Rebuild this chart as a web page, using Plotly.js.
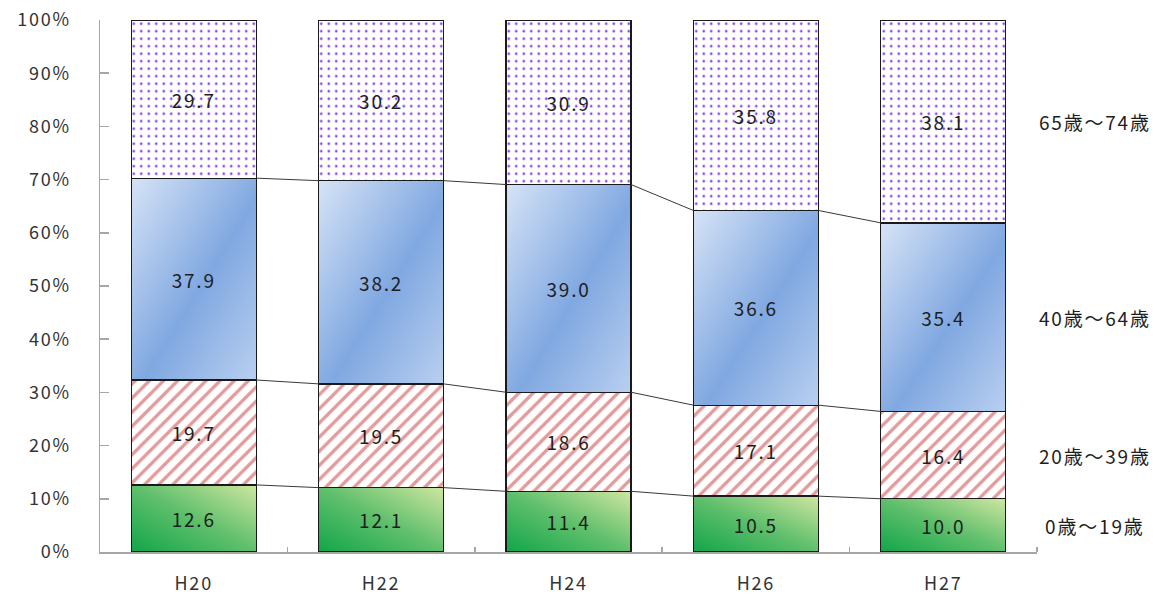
<!DOCTYPE html>
<html>
<head>
<meta charset="utf-8">
<script src="https://cdn.plot.ly/plotly-3.0.1.min.js"></script>
<style>
html,body{margin:0;padding:0;background:#fff;}
#chart{width:1170px;height:603px;}
.main-svg text{letter-spacing:1.8px;}
.annotation-text{letter-spacing:3.5px;}
</style>
</head>
<body>
<div id="chart"></div>
<script>
// ---- data ----
var categories = ["H20", "H22", "H24", "H26", "H27"];
var seriesNames = ["0歳～19歳", "20歳～39歳", "40歳～64歳", "65歳～74歳"];
var age0to19  = [12.6, 12.1, 11.4, 10.5, 10.0];
var age20to39 = [19.7, 19.5, 18.6, 17.1, 16.4];
var age40to64 = [37.9, 38.2, 39.0, 36.6, 35.4];
var age65to74 = [29.7, 30.2, 30.9, 35.8, 38.1];
var yTickVals = [0,10,20,30,40,50,60,70,80,90,100];

var series = [age0to19, age20to39, age40to64, age65to74];
var xIdx = categories.map(function(_, i){ return i; });
var BARGAP = 0.333;
var half = (1 - BARGAP) / 2;

var totals = xIdx.map(function(i){ return series.reduce(function(s, a){ return s + a[i]; }, 0); });
var cum = series.map(function(_, k){
  return xIdx.map(function(i){
    var s = 0; for (var j = 0; j <= k; j++) s += series[j][i];
    return s / totals[i] * 100;
  });
});

var labelFont = {family: "Noto Sans CJK JP, Noto Sans, sans-serif", size: 19, color: "#1e1e1e"};
var styles = [
  {color: "#5cbf6a"},
  {color: "#ffffff", pattern: {shape: "/", fgcolor: "#e39a9a", bgcolor: "#ffffff", size: 10, solidity: 0.33}},
  {color: "#a6c3ec"},
  {color: "#ffffff", pattern: {shape: ".", fgcolor: "#8a45f0", bgcolor: "#ffffff", size: 7.5, solidity: 0.1}}
];

var traces = series.map(function(vals, k){
  var m = {color: styles[k].color, line: {color: "#1a1a1a", width: 1.3}};
  if (styles[k].pattern) m.pattern = styles[k].pattern;
  return {
    type: "bar", x: xIdx, y: vals, name: seriesNames[k],
    marker: m,
    text: vals.map(function(v){ return v.toFixed(1); }),
    textposition: "inside", insidetextanchor: "middle", textangle: 0,
    constraintext: "none",
    textfont: labelFont,
    hoverinfo: "skip", showlegend: false
  };
});

for (var k = 0; k < 3; k++) {
  for (var i = 0; i < categories.length - 1; i++) {
    traces.push({
      type: "scatter", mode: "lines",
      x: [xIdx[i] + half, xIdx[i+1] - half],
      y: [cum[k][i], cum[k][i+1]],
      line: {color: "#3a3a3a", width: 1},
      hoverinfo: "skip", showlegend: false
    });
  }
}

var last = categories.length - 1;
var annotations = series.map(function(vals, k){
  var bottom = k === 0 ? 0 : cum[k-1][last];
  return {
    xref: "paper", yref: "y", x: 1.062, y: (bottom + cum[k][last]) / 2,
    text: seriesNames[k], showarrow: false, xanchor: "center", yanchor: "middle",
    font: {family: "Noto Sans CJK JP, sans-serif", size: 19, color: "#1e1e1e"}
  };
});

var tickFont = {family: "Noto Sans CJK JP, Noto Sans, sans-serif", size: 18, color: "#333333"};
var layout = {
  width: 1170, height: 603,
  margin: {l: 100, r: 133, t: 20, b: 51},
  paper_bgcolor: "#ffffff", plot_bgcolor: "#ffffff",
  barmode: "stack", barnorm: "percent", bargap: BARGAP,
  showlegend: false,
  xaxis: {
    type: "linear", range: [-0.5, 4.5],
    tickmode: "array", tickvals: xIdx, ticktext: categories,
    ticks: "", showgrid: false, zeroline: false,
    showline: true, linecolor: "#a6a6a6", linewidth: 1.5,
    tickfont: tickFont, ticklabelstandoff: 15,
    minor: {tickmode: "array", tickvals: [0.5, 1.5, 2.5, 3.5, 4.5], ticks: "inside", ticklen: 5, tickcolor: "#a6a6a6", tickwidth: 1.5, showgrid: false}
  },
  yaxis: {
    range: [0, 100], tickmode: "array", tickvals: yTickVals,
    ticktext: yTickVals.map(function(v){ return v + "%"; }),
    ticks: "inside", ticklen: 9, tickcolor: "#a6a6a6", tickwidth: 1.5,
    showgrid: false, zeroline: false,
    showline: true, linecolor: "#a6a6a6", linewidth: 1.5,
    tickfont: tickFont, ticklabelstandoff: 24
  },
  annotations: annotations
};

Plotly.newPlot("chart", traces, layout, {displayModeBar: false, staticPlot: true}).then(function(gd){
  var svg = gd.querySelector(".main-svg");
  var ns = "http://www.w3.org/2000/svg";
  var defs = svg.querySelector("defs") || svg.insertBefore(document.createElementNS(ns, "defs"), svg.firstChild);
  function grad(id, x1, y1, x2, y2, stops){
    var g = document.createElementNS(ns, "linearGradient");
    g.setAttribute("id", id);
    g.setAttribute("x1", x1); g.setAttribute("y1", y1);
    g.setAttribute("x2", x2); g.setAttribute("y2", y2);
    stops.forEach(function(s){
      var st = document.createElementNS(ns, "stop");
      st.setAttribute("offset", s[0]); st.setAttribute("stop-color", s[1]);
      g.appendChild(st);
    });
    defs.appendChild(g);
  }
  grad("gGreen", 0, 1, 1, 0, [[0, "#12a54a"], [0.5, "#5fbf6c"], [1, "#cfe6a0"]]);
  grad("gBlue", 0, 0, 1, 1, [[0, "#d6e3f6"], [0.55, "#80a8e1"], [1, "#b9cff0"]]);
  var barTraces = gd.querySelectorAll(".barlayer .trace.bars");
  var fills = {0: "url(#gGreen)", 2: "url(#gBlue)"};
  barTraces.forEach(function(t, idx){
    if (fills[idx]) {
      t.querySelectorAll(".point path").forEach(function(p){ p.style.fill = fills[idx]; });
    }
  });
});
</script>
</body>
</html>
